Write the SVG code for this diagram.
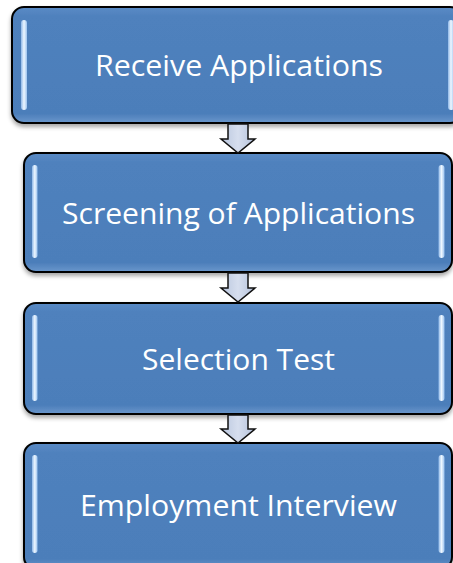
<svg xmlns="http://www.w3.org/2000/svg" width="453" height="563" viewBox="0 0 453 563">
  <defs>
    <linearGradient id="boxFill" x1="0" y1="0" x2="0" y2="1">
      <stop offset="0" stop-color="#5a8bc6"/>
      <stop offset="0.08" stop-color="#4f81bd"/>
      <stop offset="0.92" stop-color="#4c7eba"/>
      <stop offset="1" stop-color="#6a97cc"/>
    </linearGradient>
    <linearGradient id="barFill" x1="0" y1="0" x2="1" y2="0">
      <stop offset="0" stop-color="#8fb8e8"/>
      <stop offset="0.5" stop-color="#eef7ff"/>
      <stop offset="1" stop-color="#9cc3ef"/>
    </linearGradient>
    <linearGradient id="arrowFill" x1="0" y1="0" x2="1" y2="0">
      <stop offset="0" stop-color="#b9c6de"/>
      <stop offset="0.5" stop-color="#d6deee"/>
      <stop offset="1" stop-color="#b4c1da"/>
    </linearGradient>
    <filter id="shadow" x="-5%" y="-5%" width="110%" height="120%">
      <feDropShadow dx="0" dy="3" stdDeviation="2" flood-color="#000" flood-opacity="0.35"/>
    </filter>
  </defs>
  <style>
    .box { fill: url(#boxFill); stroke: #000; stroke-width: 2; filter: url(#shadow); }
    .bar { fill: url(#barFill); }
    .label { fill: #fff; font-family: "Open Sans", "Liberation Sans", sans-serif; font-size: 30px; text-anchor: middle; }
    .arrow { fill: url(#arrowFill); stroke: #111; stroke-width: 1.5; stroke-linejoin: miter; }
  </style>
  <rect width="453" height="563" fill="#fff"/>

  <g id="node-receive">
    <rect class="box" x="12" y="7" width="450" height="116" rx="12"/>
    <rect class="bar" x="21" y="20" width="6" height="90" rx="3"/>
    <rect class="bar" x="448" y="20" width="6" height="90" rx="3"/>
    <text class="label" x="239" y="76" textLength="288" lengthAdjust="spacingAndGlyphs">Receive Applications</text>
  </g>

  <g id="node-screening">
    <rect class="box" x="24" y="153" width="428" height="119" rx="12"/>
    <rect class="bar" x="32" y="165" width="5.5" height="93" rx="2.75"/>
    <rect class="bar" x="438.5" y="165" width="6" height="93" rx="3"/>
    <text class="label" x="238.5" y="223.5" textLength="353" lengthAdjust="spacingAndGlyphs">Screening of Applications</text>
  </g>

  <g id="node-selection">
    <rect class="box" x="24" y="303" width="428" height="111" rx="12"/>
    <rect class="bar" x="32" y="315" width="5.5" height="86" rx="2.75"/>
    <rect class="bar" x="438.5" y="315" width="6" height="86" rx="3"/>
    <text class="label" x="238.5" y="369.5" textLength="193" lengthAdjust="spacingAndGlyphs">Selection Test</text>
  </g>

  <g id="node-interview">
    <rect class="box" x="24" y="443" width="428" height="126" rx="12"/>
    <rect class="bar" x="32" y="455" width="5.5" height="98" rx="2.75"/>
    <rect class="bar" x="438.5" y="455" width="6" height="98" rx="3"/>
    <text class="label" x="238.5" y="516" textLength="317" lengthAdjust="spacingAndGlyphs">Employment Interview</text>
  </g>

  <g id="connectors">
    <path class="arrow" d="M228,124 H248 V139 H255 L238,153 L221,139 H228 Z"/>
    <path class="arrow" d="M228,273 H248 V288 H255 L238,302 L221,288 H228 Z"/>
    <path class="arrow" d="M228,415 H248 V429 H255 L238,443 L221,429 H228 Z"/>
  </g>
</svg>
